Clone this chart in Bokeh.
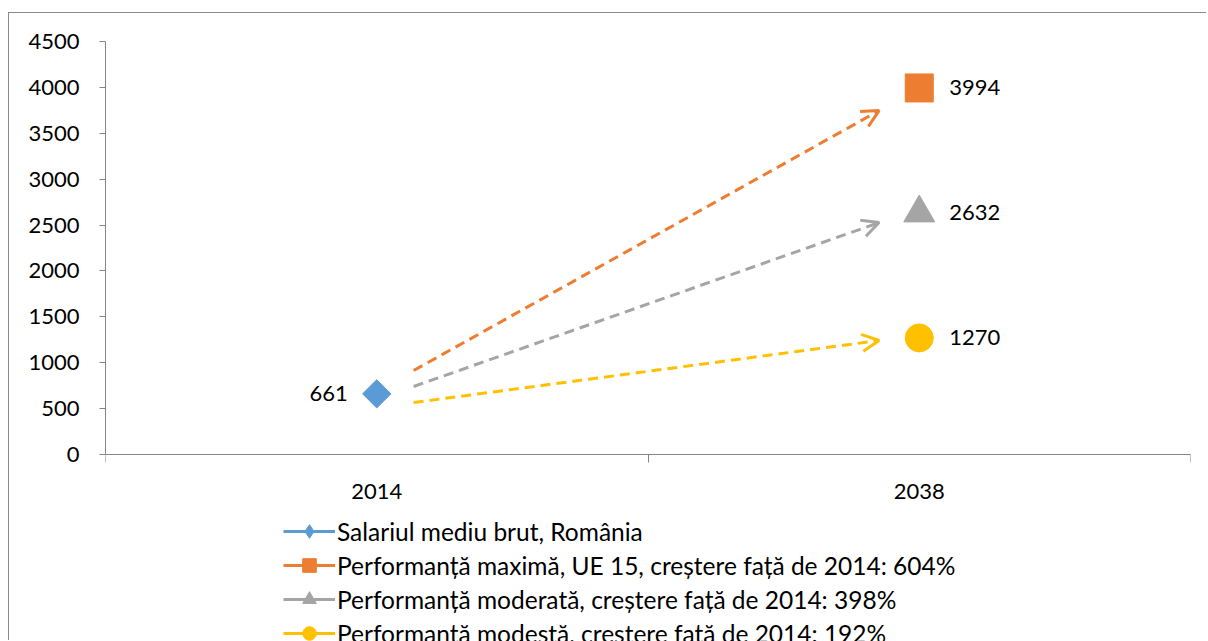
from bokeh.plotting import figure
from bokeh.models import (Range1d, FixedTicker, Legend, LegendItem, Arrow, OpenHead,
                          ColumnDataSource)
from bokeh.core.properties import value
from bokeh.embed import file_html
from bokeh.resources import INLINE
import numpy as np
import math

# ---- data ----
categories = ["2014", "2038"]
series_names = [
    "Salariul mediu brut, România",
    "Performanță maximă, UE 15, creștere față de 2014: 604%",
    "Performanță moderată, creștere față de 2014: 398%",
    "Performanță modestă, creștere față de 2014: 192%",
]
series_cat = ["2014", "2038", "2038", "2038"]
series_values = [661, 3994, 2632, 1270]
series_colors = ["#5B9BD5", "#ED7D31", "#A5A5A5", "#FFC000"]
series_markers = ["square", "square", "triangle", "circle"]
legend_markers = ["diamond", "square", "triangle", "circle"]
series_angles = [math.pi / 4, 0, 0, 0]
series_sizes = [20, 28, 31, 28]
# arrow annotations (value at start near 2014, value at end near 2038)
arrow_start = [915, 741, 566]
arrow_end = [3747, 2527, 1242]
arrow_colors = ["#ED7D31", "#A5A5A5", "#FFC000"]
y_ticks = [0, 500, 1000, 1500, 2000, 2500, 3000, 3500, 4000, 4500]
y_max = 4500

# ---- layout (pixels) ----
FONT = "Lato"
FS = "22px"
CANVAS_W, CANVAS_H = 1198, 628
FRAME_TOP, PLOT_H = 28, 413          # pixels from 0 to y_max
FRAME_H = CANVAS_H - FRAME_TOP       # frame runs to the bottom of the canvas
y_min = y_max - FRAME_H * y_max / PLOT_H

cat_pos = {c: i + 0.5 for i, c in enumerate(categories)}

p = figure(width=CANVAS_W, height=CANVAS_H, output_backend="svg", toolbar_location=None,
           x_range=Range1d(0, len(categories)), y_range=Range1d(y_min, y_max),
           min_border_left=96, min_border_right=17, min_border_top=FRAME_TOP,
           min_border_bottom=0)
p.styles = {"border-left": "1px solid #8a8a8a", "border-top": "1px solid #8a8a8a",
            "margin-left": "8px", "margin-top": "12px"}
p.grid.visible = False
p.outline_line_color = None
p.background_fill_color = "white"
p.border_fill_color = "white"

# axes
ax = p.xaxis[0]
ax.fixed_location = 0
ax.ticker = FixedTicker(ticks=[cat_pos[c] for c in categories],
                        minor_ticks=list(range(len(categories) + 1)))
ax.major_label_overrides = {cat_pos[c]: c for c in categories}
ax.major_tick_out = 0
ax.major_tick_in = 0
ax.minor_tick_out = 8
ax.minor_tick_in = 0
ax.minor_tick_line_color = "#868686"
ax.axis_line_color = "#868686"
ax.major_label_text_font = FONT
ax.major_label_text_font_size = FS
ax.major_label_text_color = "black"
ax.major_label_standoff = 21

ay = p.yaxis[0]
ay.bounds = (0, y_max)
ay.ticker = FixedTicker(ticks=y_ticks)
ay.major_tick_out = 6
ay.major_tick_in = 0
ay.minor_tick_line_color = None
ay.major_tick_line_color = "#868686"
ay.axis_line_color = "#868686"
ay.major_label_text_font = FONT
ay.major_label_text_font_size = FS
ay.major_label_text_color = "black"
ay.major_label_standoff = 20

# arrows
for s, e, c in zip(arrow_start, arrow_end, arrow_colors):
    p.add_layout(Arrow(x_start=cat_pos["2014"] + 0.068, y_start=s,
                       x_end=cat_pos["2038"] - 0.074, y_end=e,
                       line_color=c, line_width=3, line_dash="10 6",
                       end=OpenHead(size=17, line_color=c, line_width=3)))

# series
items = []
for name, cat, v, col, mk, lmk, ang, sz in zip(series_names, series_cat, series_values,
                                               series_colors, series_markers,
                                               legend_markers, series_angles,
                                               series_sizes):
    src = ColumnDataSource(dict(x=[cat_pos[cat]], y=[v], t=[str(v)]))
    ln = p.line("x", "y", source=src, line_color=col, line_width=3)
    p.scatter("x", "y", source=src, marker=mk, size=sz, angle=ang,
              fill_color=col, line_color=col)
    # legend-only marker (its single point is NaN, so nothing is drawn in the plot)
    lsrc = ColumnDataSource(dict(x=np.array([np.nan]), y=np.array([np.nan])))
    lg = p.scatter("x", "y", source=lsrc, marker=lmk, size=sz,
                   fill_color=col, line_color=col)
    if cat == "2014":
        p.text("x", "y", text="t", source=src, x_offset=-29, text_align="right",
               text_baseline="middle", text_font=value(FONT),
               text_font_size=FS, text_color="black")
    else:
        p.text("x", "y", text="t", source=src, x_offset=30, text_align="left",
               text_baseline="middle", text_font=value(FONT),
               text_font_size=FS, text_color="black")
    items.append(LegendItem(label=name, renderers=[ln, lg]))

legend = Legend(items=items, location=(178, -9), orientation="vertical",
                glyph_width=52, glyph_height=34, spacing=0, padding=0, margin=0,
                label_standoff=2, label_text_font=FONT, label_text_font_size="24.5px",
                label_text_color="black", border_line_color=None,
                background_fill_alpha=0)
p.add_layout(legend, "center")

open("out.html", "w").write(file_html(p, INLINE))
